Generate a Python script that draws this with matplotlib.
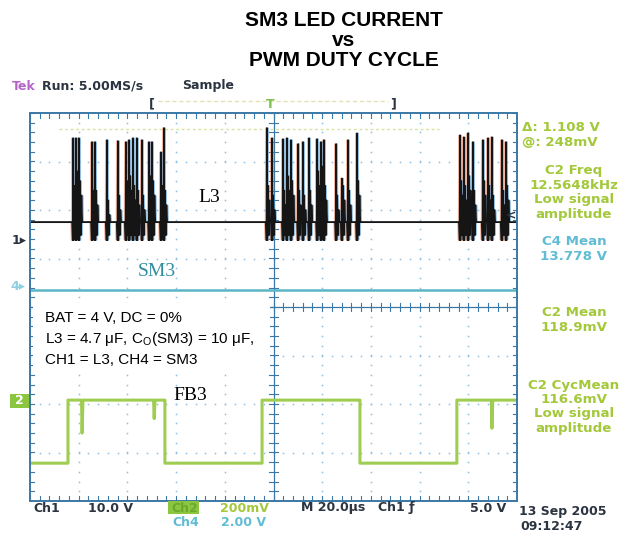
import matplotlib
matplotlib.use("Agg")
import matplotlib.pyplot as plt
from matplotlib.patches import Rectangle
from matplotlib.lines import Line2D
import numpy as np

W, H = 635, 533

# screen units: time in microseconds (20 us/div), levels in graticule divisions
l3_base_div = 1.75
l3_gnd_div = 1.38
l3_spike_us = [17.7, 18.9, 20.1, 25.5, 26.7, 31.6, 36.1, 39.4, 40.7, 42.3, 43.9, 46.0,
               48.9, 50.1, 53.8, 55.0,
               97.3, 99.4, 103.9, 105.5, 107.2, 110.1, 112.1, 114.6, 117.9, 119.5, 120.7,
               125.7, 128.1, 130.6, 134.3,
               176.6, 178.2, 179.9, 181.9, 186.0, 188.1, 189.7, 193.8, 195.5]
l3_peak_div = [3.48, 3.48, 3.48, 3.40, 3.40, 3.44, 3.42, 3.40, 3.44, 3.48, 3.48, 3.44,
               3.40, 3.40, 3.19, 3.69,
               3.69, 3.48, 3.46, 3.48, 3.44, 3.36, 3.40, 3.48, 3.46, 3.40, 3.44,
               3.36, 2.65, 3.44, 3.58,
               3.54, 3.50, 3.58, 3.40, 3.44, 3.48, 3.50, 3.44, 3.40]
l3_ring_div = [2.5, 2.8, 2.6, 2.4, 2.4, 2.2, 2.3, 2.6, 2.7, 2.5, 2.4, 2.3,
               2.7, 2.6, 2.5, 2.4,
               2.5, 2.3, 2.4, 2.7, 2.6, 2.4, 2.3, 2.4, 2.8, 2.9, 2.5,
               2.3, 2.5, 2.4, 2.6,
               2.6, 2.5, 2.7, 2.4, 2.6, 2.5, 2.3, 2.4, 2.5]

sm3_div = 0.35

fb3_edges_us = [15.6, 55.4, 95.3, 135.5, 175.3]
fb3_high_div = -1.92
fb3_low_div = -3.22
fb3_glitch_us = [21.4, 51.0, 189.7]
fb3_glitch_div = [-2.6, -2.3, -2.5]

note_lines = ["BAT = 4 V, DC = 0%",
              "L3 = 4.7 \u03bcF, C$_\\mathregular{O}$(SM3) = 10 \u03bcF,",
              "CH1 = L3, CH4 = SM3"]

plt.rcParams["font.family"] = ["DejaVu Sans"]
plt.rcParams["mathtext.fontset"] = "custom"
plt.rcParams["mathtext.rm"] = "Liberation Sans"

fig = plt.figure(figsize=(W / 100, H / 100), dpi=100)
fig.patch.set_facecolor("white")


def fx(px):
    return px / W


def fy(py):
    return 1 - py / H


ax = fig.add_axes([fx(30), fy(501), (517 - 30) / W, (501 - 113) / H])
ax.set_xlim(0, 200)
ax.set_ylim(-4, 4)
ax.axis("off")

grid_c = "#8fbfe0"
border_c = "#3b78a6"

# dotted graticule
minor_t = np.arange(0, 200.01, 4)
minor_y = np.arange(-4, 4.01, 0.2)
for gx in range(20, 200, 20):
    if gx == 100:
        continue
    ax.plot(np.full_like(minor_y, gx), minor_y, ls="none", marker="s", ms=1.1,
            mew=0, color=grid_c, zorder=1)
for gy in range(-3, 4):
    if gy == 0:
        continue
    ax.plot(minor_t, np.full_like(minor_t, gy), ls="none", marker="s", ms=1.1,
            mew=0, color=grid_c, zorder=1)

# centre cross with ticks
ax.axhline(0, color=border_c, lw=0.9, zorder=1)
ax.axvline(100, color=border_c, lw=0.9, zorder=1)
for t in minor_t:
    ax.plot([t, t], [-0.09, 0.09], color=border_c, lw=0.8, zorder=1)
    ax.plot([t, t], [3.9, 4], color=border_c, lw=0.8, zorder=1)
    ax.plot([t, t], [-4, -3.9], color=border_c, lw=0.8, zorder=1)
for v in minor_y:
    ax.plot([98.2, 101.8], [v, v], color=border_c, lw=0.8, zorder=1)
    ax.plot([0, 1.8], [v, v], color=border_c, lw=0.8, zorder=1)
    ax.plot([198.2, 200], [v, v], color=border_c, lw=0.8, zorder=1)
ax.add_patch(Rectangle((0, -4), 200, 8, fill=False, ec=border_c, lw=1.4, zorder=5,
                       clip_on=False))

# cursor line
ax.plot([12, 168], [3.66, 3.66], color="#d8e2a0", lw=1.0, ls=(0, (2, 2)), zorder=1)

# L3 trace
spikes = list(zip(l3_spike_us, l3_peak_div, l3_ring_div))
lt, ly = [0.0], [l3_base_div]
for i, (ts, pk, rg) in enumerate(spikes):
    nxt = spikes[i + 1][0] if i + 1 < len(spikes) else 200.0
    seg = [(ts - 0.35, l3_base_div), (ts - 0.12, l3_gnd_div), (ts, pk),
           (ts + 0.12, l3_gnd_div), (ts + 0.4, rg), (ts + 0.7, l3_gnd_div + 0.1),
           (ts + 1.0, rg - 0.3), (ts + 1.3, l3_base_div)]
    for tt, yy in seg:
        if tt <= ts + 0.12 or tt < nxt - 0.35:
            lt.append(tt)
            ly.append(yy)
lt.append(200.0)
ly.append(l3_base_div)
lt = np.array(lt)
ly = np.array(ly)
ax.plot(lt - 0.5, ly, color="#e07a55", lw=1.0, alpha=0.55, zorder=3)
ax.plot(lt + 0.5, ly, color="#3d8cc8", lw=1.0, alpha=0.55, zorder=3)
ax.plot(lt, ly, color="#151515", lw=1.3, zorder=4)

# SM3 trace
ax.plot([0, 200], [sm3_div, sm3_div], color="#5bb5c6", lw=1.8, zorder=3)

# FB3 trace
pts = [(0.0, fb3_low_div)]
level = fb3_low_div
for e in fb3_edges_us:
    nxt_level = fb3_high_div if level == fb3_low_div else fb3_low_div
    pts.append((e, level))
    pts.append((e, nxt_level))
    level = nxt_level
pts.append((200.0, level))
for g, d in zip(fb3_glitch_us, fb3_glitch_div):
    pts += [(g - 0.25, fb3_high_div), (g, d), (g + 0.35, fb3_high_div)]
pts.sort(key=lambda p: p[0])
ax.plot([p[0] for p in pts], [p[1] for p in pts], color="#9fcd52", lw=2.2, zorder=3)

# note box
fig.patches.append(Rectangle((fx(33), fy(371)), (270 - 33) / W, (371 - 303) / H,
                             transform=fig.transFigure, fc="white", ec="none", zorder=6))
for i, line in enumerate(note_lines):
    fig.text(fx(45), fy(318 + i * 21), line, family="Liberation Sans", fontsize=11,
             va="center", ha="left", zorder=7)

# trace labels
fig.text(fx(198), fy(197), "L3", family="Liberation Serif", fontsize=14, va="center")
fig.text(fx(138), fy(272), "SM3", family="Liberation Serif", fontsize=14, va="center",
         color="#2f8e9e")
fig.text(fx(173), fy(396), "FB3", family="Liberation Serif", fontsize=14, va="center",
         zorder=7)

# title
for txt, y in [("SM3 LED CURRENT", 20), ("vs", 41), ("PWM DUTY CYCLE", 61)]:
    fig.text(fx(344), fy(y), txt, family="Liberation Sans", weight="bold", fontsize=15,
             ha="center", va="center")

dark = "#2b3440"
green = "#a3c83a"
cyan = "#60bcd4"
sfont = dict(family="DejaVu Sans", weight="bold", fontsize=9, va="center")
rfont = dict(family="DejaVu Sans", weight="bold", fontsize=9.6, va="center")

# top status line
fig.text(fx(12), fy(86), "Tek", color="#b565c8", **sfont)
fig.text(fx(42), fy(86), "Run: 5.00MS/s", color=dark, **sfont)
fig.text(fx(182), fy(86), "Sample", color=dark, **sfont)
fig.text(fx(152), fy(104), "[", color=dark, ha="center", **sfont)
fig.text(fx(270), fy(104), "T", color="#7cc050", ha="center", **sfont)
fig.text(fx(393), fy(104), "]", color=dark, ha="center", **sfont)
fig.lines.append(Line2D([fx(158), fx(388)], [fy(101), fy(101)], transform=fig.transFigure,
                        color="#e4e3b0", lw=1.0, ls=(0, (3, 2))))

# left markers
fig.text(fx(12), fy(240), "1\u25b8", color=dark, **sfont)
fig.text(fx(10), fy(286), "4\u25b8", color=cyan, alpha=0.7, **sfont)
fig.patches.append(Rectangle((fx(10), fy(408)), 19 / W, 14 / H, transform=fig.transFigure,
                             fc="#8cc63f", ec="none"))
fig.text(fx(19), fy(401), "2", color="white", ha="center", **sfont)
fig.text(fx(511), fy(216), "<", color=dark, ha="center", **sfont)

# right readouts
fig.text(fx(522), fy(127), "\u0394: 1.108 V", color=green, **rfont)
fig.text(fx(522), fy(142), "@: 248mV", color=green, **rfont)
right_blocks = [(["C2 Freq", "12.5648kHz", "Low signal", "amplitude"], 171, green),
                (["C4 Mean", "13.778 V"], 242, cyan),
                (["C2 Mean", "118.9mV"], 313, green),
                (["C2 CycMean", "116.6mV", "Low signal", "amplitude"], 385, green)]
for lines, y0, col in right_blocks:
    for k, s in enumerate(lines):
        fig.text(fx(574), fy(y0 + k * 14.5), s, color=col, ha="center", **rfont)

# bottom readouts
fig.text(fx(33), fy(508), "Ch1", color=dark, **sfont)
fig.text(fx(88), fy(508), "10.0 V", color=dark, **sfont)
fig.patches.append(Rectangle((fx(168), fy(514)), 31 / W, 13 / H, transform=fig.transFigure,
                             fc="#8cc63f", ec="none"))
fig.text(fx(171), fy(508), "Ch2", color="#6aa830", **sfont)
fig.text(fx(220), fy(508), "200mV", color=green, **sfont)
fig.text(fx(172), fy(523), "Ch4", color=cyan, **sfont)
fig.text(fx(221), fy(523), "2.00 V", color=cyan, **sfont)
fig.text(fx(301), fy(508), "M 20.0\u00b5s", color=dark, **sfont)
fig.text(fx(378), fy(508), "Ch1 \u0192", color=dark, **sfont)
fig.text(fx(470), fy(508), "5.0 V", color=dark, **sfont)
fig.text(fx(519), fy(512), "13 Sep 2005", color=dark, **sfont)
fig.text(fx(520), fy(526), "09:12:47", color=dark, **sfont)

fig.savefig("out.png", dpi=100, facecolor="white")
